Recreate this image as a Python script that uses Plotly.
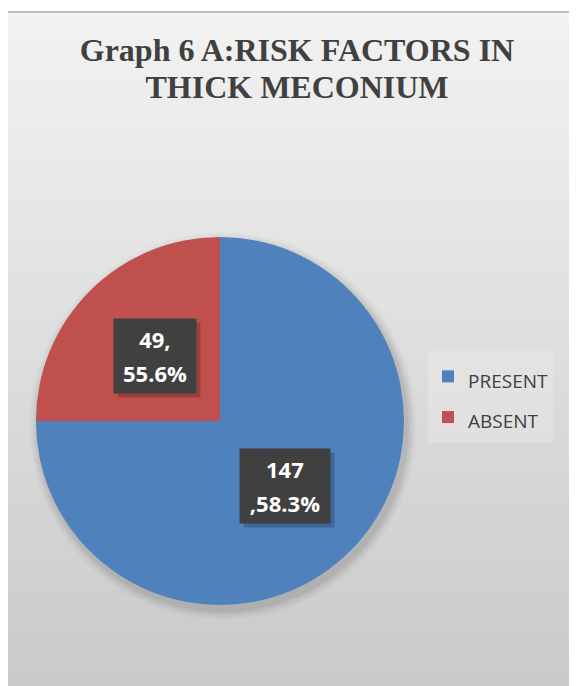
import numpy as np
import plotly.graph_objects as go

# ---- data ----
labels = ["PRESENT", "ABSENT"]
values = [147, 49]
label_texts = ["147<br>,58.3%", "49,<br>55.6%"]
colors = ["#4F81BD", "#C0504D"]
title_lines = ["Graph 6 A:RISK FACTORS IN", "THICK MECONIUM"]

OFF = 8                     # browser body margin
W, H = 577 - OFF, 686 - OFF
cx, cy, r = 220, 421, 184   # pie geometry in screen pixels


def px(x):
    return (x - OFF) / W


def py(y):
    return 1 - (y - OFF) / H


def styled(text, size, bold=False):
    parts = []
    for line in text.split("<br>"):
        s = f'<span style="font-size:{size}px">{line}</span>'
        parts.append(f"<b>{s}</b>" if bold else s)
    return "<br>".join(parts)


fig = go.Figure()
fig.add_trace(go.Pie(
    labels=[styled(l, 19) for l in labels], values=values, sort=False,
    direction="clockwise", rotation=0,
    marker=dict(colors=colors, line=dict(width=0)),
    textinfo="none", hoverinfo="value+percent",
    domain=dict(x=[px(cx - r), px(cx + r)], y=[py(cy + r), py(cy - r)]),
    showlegend=True,
))

shapes = []
# background gradient panel
x0, y0 = 6, 11
N = 70
top = np.array([0xF2, 0xF2, 0xF2])
bot = np.array([0xCA, 0xCA, 0xCA])
for i in range(N):
    t = i / (N - 1)
    c = (top * (1 - t) + bot * t).round().astype(int)
    ya = y0 + (686 - y0) * i / N
    yb = y0 + (686 - y0) * (i + 1) / N + 0.6
    shapes.append(dict(type="rect", xref="paper", yref="paper", layer="below",
                       x0=px(x0), x1=1.01, y0=py(yb), y1=py(ya),
                       fillcolor=f"rgb({c[0]},{c[1]},{c[2]})", line=dict(width=0)))
# frame
shapes.append(dict(type="rect", xref="paper", yref="paper", layer="below",
                   x0=px(x0 + 1), x1=1.02, y0=-0.02, y1=py(y0 + 1),
                   fillcolor="rgba(0,0,0,0)", line=dict(color="#BDBDBD", width=2)))
# soft pie shadow
for k, a in enumerate([0.05, 0.04, 0.03, 0.02, 0.015]):
    rr = r + 2 + 2 * k
    sx, sy = cx + 3, cy + 5
    shapes.append(dict(type="circle", xref="paper", yref="paper", layer="below",
                       x0=px(sx - rr), x1=px(sx + rr), y0=py(sy + rr), y1=py(sy - rr),
                       fillcolor=f"rgba(0,0,0,{a})", line=dict(width=0)))

# data labels at half radius along each slice's mid angle
vals = np.array(values, dtype=float)
frac = vals / vals.sum()
mid = (np.cumsum(frac) - frac / 2) * 2 * np.pi  # clockwise from 12 o'clock
annotations = []
for txt, ang in zip(label_texts, mid):
    lx = cx + 0.5 * r * np.sin(ang)
    ly = cy - 0.5 * r * np.cos(ang)
    maxch = max(len(s) for s in txt.split("<br>"))
    bw, bh = 8 * maxch + 42, 74
    annotations.append(dict(x=px(lx + 4), y=py(ly + 4), xref="paper", yref="paper",
                            xanchor="center", yanchor="middle",
                            text=" ", showarrow=False, width=bw, height=bh,
                            bgcolor="rgba(0,0,0,0.2)", borderpad=0))
    annotations.append(dict(x=px(lx), y=py(ly), xref="paper", yref="paper",
                            xanchor="center", yanchor="middle",
                            text=styled(txt, 22, bold=True), showarrow=False,
                            align="center", valign="middle", width=bw, height=bh,
                            font=dict(family="Open Sans", size=26, color="white"),
                            bgcolor="#404040", borderpad=0))

fig.update_layout(
    width=W, height=H,
    margin=dict(l=0, r=0, t=0, b=0),
    paper_bgcolor="white", plot_bgcolor="white",
    title=dict(text=styled("<br>".join(title_lines), 32, bold=True),
               x=px(297), xanchor="center", y=py(61), yanchor="top",
               font=dict(family="Liberation Serif", size=28.5, color="#404040")),
    legend=dict(x=px(428), xanchor="left", y=py(397), yanchor="middle",
                font=dict(family="Open Sans", size=29, color="#404040"),
                bgcolor="rgba(255,255,255,0.2)", itemclick=False),
    shapes=shapes,
    annotations=annotations,
)

fig.write_html("out.html")
